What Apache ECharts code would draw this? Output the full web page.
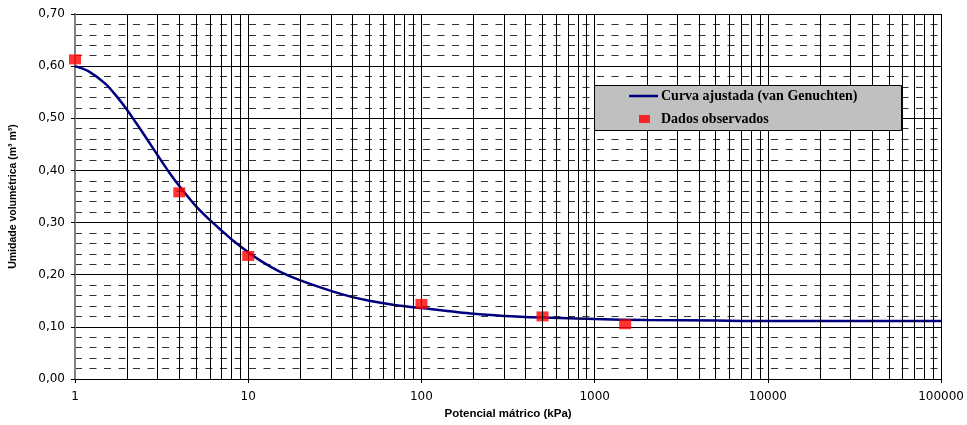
<!DOCTYPE html>
<html>
<head>
<meta charset="utf-8">
<script src="https://cdn.jsdelivr.net/npm/echarts@6/dist/echarts.min.js"></script>
<style>
html,body{margin:0;padding:0;background:#fff;}
#chart{width:967px;height:425px;}
</style>
</head>
<body>
<div id="chart"></div>
<script>
// Observed data (kPa, m3/m3)
var obsPotential = [1, 4, 10, 100, 500, 1500];
var obsTheta = [0.613, 0.358, 0.236, 0.144, 0.120, 0.105];

// Fitted curve
var curvePotential = [1, 1.2, 1.5, 1.75, 2, 2.5, 3, 3.5, 4, 5, 6, 7, 8, 10, 12, 15, 20, 30, 40, 50, 70, 100, 200, 300, 500, 1000, 2000, 5000, 10000, 100000];
var curveTheta = [0.600, 0.590, 0.566, 0.541, 0.516, 0.469, 0.429, 0.396, 0.370, 0.331, 0.305, 0.285, 0.268, 0.243, 0.225, 0.207, 0.189, 0.169, 0.157, 0.150, 0.142, 0.136, 0.125, 0.121, 0.118, 0.115, 0.113, 0.112, 0.111, 0.111];

// Axis ticks
var xDecades = [1, 10, 100, 1000, 10000, 100000];
var minorMultipliers = [2, 3, 4, 5, 6, 7, 8, 9];
var yMin = 0, yMax = 0.7, yStep = 0.1;

var seriesNames = ['Curva ajustada (van Genuchten)', 'Dados observados'];

var minorLines = [];
xDecades.slice(0, -1).forEach(function (d) {
  minorMultipliers.forEach(function (m) { minorLines.push({ xAxis: d * m }); });
});

var legendText = { fontFamily: 'Liberation Serif', fontWeight: 'bold', fontSize: 14, color: '#000' };

var chart = echarts.init(document.getElementById('chart'));
var option = {
  animation: false,
  backgroundColor: '#fff',
  grid: { left: 73, right: 25, top: 14, bottom: 46, containLabel: false },
  graphic: [{
    type: 'rect',
    left: 594, top: 85, z: 100,
    shape: { width: 307, height: 45 },
    style: { fill: '#c0c0c0', stroke: '#000', lineWidth: 1 }
  }],
  legend: [{
    data: [{ name: seriesNames[0], icon: 'rect' }],
    left: 624, top: 84, z: 110, symbolKeepAspect: false,
    itemWidth: 29, itemHeight: 2.5,
    textStyle: Object.assign({}, legendText, { padding: [0, 0, 0, -2] })
  }, {
    data: [{ name: seriesNames[1], icon: 'rect' }],
    left: 634, top: 107, z: 110, symbolKeepAspect: false,
    itemWidth: 11, itemHeight: 8,
    textStyle: Object.assign({}, legendText, { padding: [0, 0, 0, 6] })
  }],
  xAxis: {
    type: 'log', logBase: 10, min: 1, max: 100000,
    name: 'Potencial mátrico (kPa)', nameLocation: 'middle', nameGap: 29,
    nameTextStyle: { fontFamily: 'Liberation Sans', fontWeight: 'bold', fontSize: 11.5, color: '#000' },
    axisLine: { show: true, onZero: false, lineStyle: { color: '#000', width: 1 } },
    axisTick: { show: true, length: 4, inside: false, lineStyle: { color: '#000' } },
    axisLabel: { margin: 12, fontFamily: 'DejaVu Sans', fontSize: 12, color: '#000',
      formatter: function (v) { return String(Math.round(v)); } },
    splitLine: { show: true, lineStyle: { color: '#000', width: 1 } }
  },
  yAxis: {
    type: 'value', min: yMin, max: yMax, interval: yStep,
    name: 'Umidade volumétrica (m³ m³)', nameLocation: 'middle', nameGap: 56, nameRotate: 90,
    nameTextStyle: { fontFamily: 'Liberation Sans', fontWeight: 'bold', fontSize: 10.5, color: '#000' },
    axisLine: { show: true, lineStyle: { color: '#808080', width: 2 } },
    axisTick: { show: true, length: 4, inside: false, lineStyle: { color: '#000' } },
    axisLabel: { margin: 10, fontFamily: 'DejaVu Sans', fontSize: 12, color: '#000',
      formatter: function (v) { return v.toFixed(2).replace('.', ','); } },
    splitLine: { show: true, lineStyle: { color: '#000', width: 1 } },
    minorTick: { show: false, splitNumber: 5 },
    minorSplitLine: { show: true, lineStyle: { color: '#333', width: 1, type: [7, 7.5] } }
  },
  series: [{
    name: 'gridMinor', type: 'line', data: [], z: 1, silent: true,
    markLine: {
      silent: true, symbol: ['none', 'none'], animation: false,
      label: { show: false },
      lineStyle: { color: '#000', type: 'solid', width: 1 },
      emphasis: { disabled: true },
      data: minorLines
    }
  }, {
    name: seriesNames[0], type: 'line', smooth: 0.3, showSymbol: false, symbol: 'none', z: 3,
    data: curvePotential.map(function (p, i) { return [p, curveTheta[i]]; }),
    lineStyle: { color: '#000080', width: 2.5 },
    itemStyle: { color: '#000080' }
  }, {
    name: seriesNames[1], type: 'scatter', symbol: 'rect', symbolSize: [12, 10], z: 4,
    data: obsPotential.map(function (p, i) { return [p, obsTheta[i]]; }),
    itemStyle: { color: '#ff0000' }
  }]
};
chart.setOption(option);
</script>
</body>
</html>
